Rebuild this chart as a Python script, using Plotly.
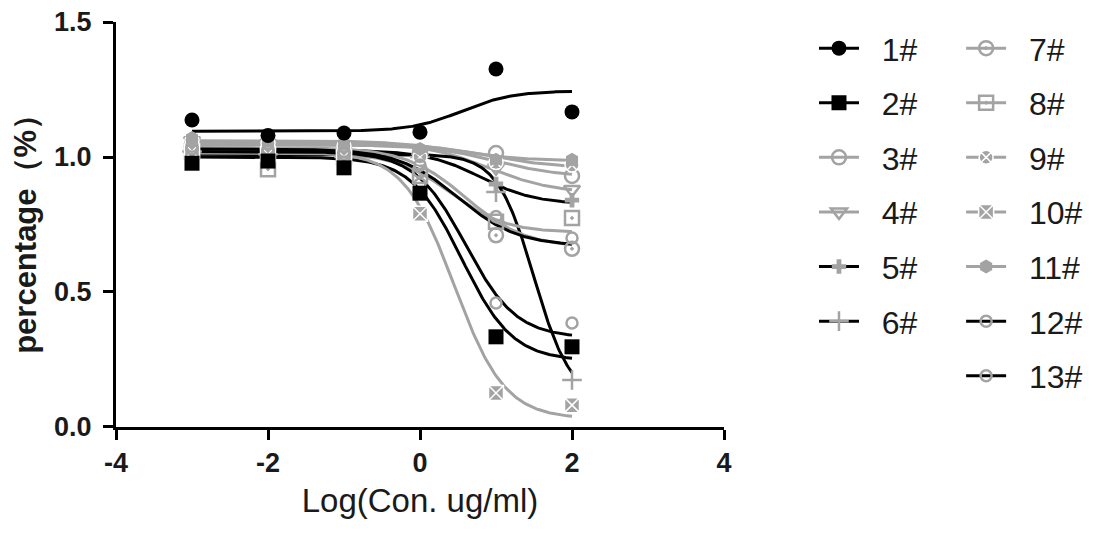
import numpy as np
import plotly.graph_objects as go

# ---- data ----
log_conc = [-3, -2, -1, 0, 1, 2]
names = ["1#", "2#", "3#", "4#", "5#", "6#", "7#", "8#", "9#", "10#", "11#", "12#", "13#"]

s1 = [1.137, 1.080, 1.089, 1.092, 1.326, 1.167]
s2 = [0.977, 0.985, 0.960, 0.866, 0.334, 0.297]
s3 = [1.050, 1.040, 1.030, 1.020, 1.015, 0.930]
s4 = [1.060, 1.050, 1.040, 1.000, 0.960, 0.880]
s5 = [1.030, 1.020, 1.020, 1.000, 0.900, 0.840]
s6 = [1.020, 1.010, 1.000, 1.000, 0.870, 0.174]
s7 = [1.040, 1.030, 1.020, 0.950, 0.710, 0.660]
s8 = [1.020, 0.955, 1.000, 0.930, 0.760, 0.774]
s9 = [1.060, 1.050, 1.040, 1.000, 0.980, 0.970]
s10 = [1.020, 1.010, 1.000, 0.790, 0.126, 0.081]
s11 = [1.070, 1.060, 1.050, 1.030, 0.990, 0.990]
s12 = [1.040, 1.030, 1.020, 0.970, 0.780, 0.700]
s13 = [1.030, 1.020, 1.010, 0.900, 0.459, 0.385]
series = [s1, s2, s3, s4, s5, s6, s7, s8, s9, s10, s11, s12, s13]

# fitted 4-parameter logistic curves: (top, bottom, logIC50, hill)
fit_top =    [1.095, 1.000, 1.045, 1.055, 1.025, 1.010, 1.035, 1.015, 1.050, 1.020, 1.060, 1.030, 1.020]
fit_bottom = [1.245, 0.245, 0.925, 0.865, 0.825, 0.100, 0.665, 0.720, 0.960, 0.030, 0.985, 0.670, 0.330]
fit_ic50 =   [0.55, 0.55, 1.00, 0.90, 0.80, 1.50, 0.60, 0.40, 0.90, 0.45, 0.50, 0.50, 0.60]
fit_hill =   [1.3, 1.3, 1.0, 1.0, 1.2, 1.8, 1.1, 1.2, 1.0, 1.3, 1.0, 1.1, 1.3]

x_ticks = [-4, -2, 0, 2, 4]
x_tick_labels = ["-4", "-2", "0", "2", "4"]
y_ticks = [0, 0.5, 1.0, 1.5]
y_tick_labels = ["0.0", "0.5", "1.0", "1.5"]
x_title = "Log(Con. ug/ml)"
y_title = "percentage（%）"

# ---- styles ----
BLACK = "#000000"
GRAY = "#a3a3a3"
TEXT = "#1a1a1a"
line_colors = [BLACK, BLACK, GRAY, GRAY, BLACK, BLACK, GRAY, GRAY, GRAY, GRAY, GRAY, BLACK, BLACK]
marker_colors = [BLACK, BLACK, GRAY, GRAY, GRAY, GRAY, GRAY, GRAY, GRAY, GRAY, GRAY, GRAY, GRAY]
symbols = ["circle", "square", "circle-open", "triangle-down-open", "cross", "cross-thin-open",
           "circle-open-dot", "square-open-dot", "circle-x", "square-x", "hexagon",
           "circle-open", "circle-open"]
sizes = [15, 15, 14, 14, 12, 14, 14, 14, 14, 15, 14, 11, 11]
FONT = "Liberation Sans, Arial, sans-serif"
NBSP = "\u00a0\u00a0"

fig = go.Figure()

xs = np.linspace(log_conc[0], log_conc[-1], 300)

# fitted curves
for i in range(len(names)):
    ys = fit_bottom[i] + (fit_top[i] - fit_bottom[i]) / (1 + 10 ** ((xs - fit_ic50[i]) * fit_hill[i]))
    fig.add_trace(go.Scatter(x=xs, y=ys, mode="lines", showlegend=False, hoverinfo="skip",
                             line=dict(color=line_colors[i], width=3)))

def marker_of(i):
    m = dict(symbol=symbols[i], size=sizes[i], color=marker_colors[i])
    if symbols[i] in ("circle-x", "square-x"):
        m["line"] = dict(color="white", width=1.5)
    elif symbols[i].endswith("-open") or symbols[i].endswith("-open-dot"):
        m["line"] = dict(color=marker_colors[i], width=2.5)
    else:
        m["line"] = dict(color=marker_colors[i], width=0)
    return m

# data points: gray first, black on top
order = [i for i in range(len(names)) if marker_colors[i] != BLACK] + \
        [i for i in range(len(names)) if marker_colors[i] == BLACK]
for i in order:
    fig.add_trace(go.Scatter(x=log_conc, y=series[i], mode="markers", showlegend=False,
                             name=names[i], marker=marker_of(i)))

# legend entries (two columns)
for i in range(len(names)):
    fig.add_trace(go.Scatter(x=[None], y=[None], mode="lines+markers", name=NBSP + names[i],
                             legend="legend" if i < 6 else "legend2",
                             legendgroup=names[i],
                             line=dict(color=line_colors[i], width=3),
                             marker=marker_of(i)))

legend_common = dict(font=dict(family=FONT, size=32, color=TEXT),
                     bgcolor="rgba(0,0,0,0)", tracegroupgap=10, itemwidth=40,
                     xanchor="left", yanchor="top", maxheight=520)

fig.update_layout(
    width=1086, height=527,
    margin=dict(l=108, r=370, t=2, b=108),
    paper_bgcolor="white", plot_bgcolor="white",
    font=dict(family=FONT, color=TEXT),
    legend=dict(x=1.148, y=0.974, **legend_common),
    legend2=dict(x=1.390, y=0.974, **legend_common),
    xaxis=dict(range=[-4, 4], tickvals=x_ticks, ticktext=x_tick_labels, showline=True,
               linecolor=BLACK, linewidth=3, automargin=False,
               ticks="outside", ticklen=10, tickwidth=3, tickcolor=BLACK,
               ticklabeloverflow="allow",
               tickfont=dict(family=FONT, size=27, color=TEXT, weight="bold"),
               showgrid=False, zeroline=False,
               title=dict(text=x_title, font=dict(family=FONT, size=33, color=TEXT),
                          standoff=12)),
    yaxis=dict(range=[0, 1.5], domain=[0, 0.9712], tickvals=y_ticks, ticktext=y_tick_labels,
               showline=True, linecolor=BLACK, linewidth=3, automargin=False,
               ticks="outside", ticklen=10, tickwidth=3,
               tickcolor=BLACK, ticklabelstandoff=6, ticklabeloverflow="allow",
               tickfont=dict(family=FONT, size=27, color=TEXT, weight="bold"),
               showgrid=False, zeroline=False),
    annotations=[dict(text=y_title, xref="paper", yref="paper", x=-0.148, y=0.48,
                      textangle=-90, showarrow=False, xanchor="center", yanchor="middle",
                      font=dict(family=FONT, size=31, weight="bold", color=TEXT))],
)

fig.write_html("out.html")
